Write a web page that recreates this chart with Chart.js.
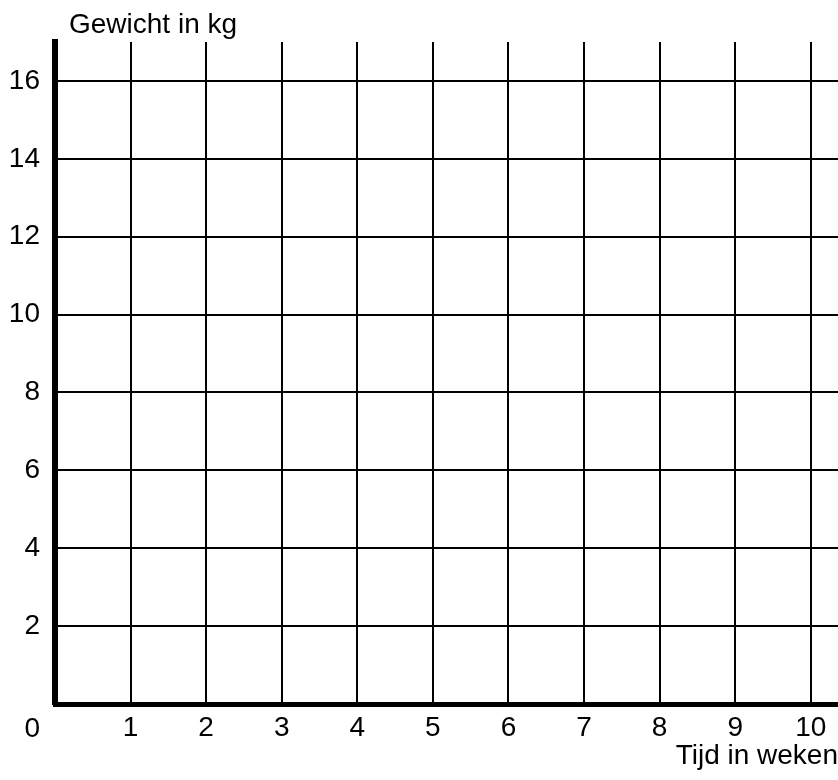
<!DOCTYPE html>
<html>
<head>
<meta charset="utf-8">
<script src="https://cdn.jsdelivr.net/npm/chart.js@4/dist/chart.umd.min.js"></script>
<style>
  html, body { margin: 0; padding: 0; background: #fff; }
  #wrap { width: 838px; height: 780px; }
</style>
</head>
<body>
<div id="wrap"><canvas id="grafiek"></canvas></div>
<script>
// as en tick waarden
const xTicks = [1, 2, 3, 4, 5, 6, 7, 8, 9, 10];
const yTicks = [2, 4, 6, 8, 10, 12, 14, 16];
const xRange = [0, 10.36];
const yRange = [0, 17];
const xTitle = 'Tijd in weken';
const yTitle = 'Gewicht in kg';
const originLabel = '0';
const punten = []; // leeg rooster, nog geen metingen

const fontFamily = "'Liberation Sans', Arial, sans-serif";
const fontSize = 28;

// y-titel staat horizontaal boven de as, "0" staat in de hoek
const hoekTeksten = {
    id: 'hoekTeksten',
    afterDraw(chart) {
        const ctx = chart.ctx;
        const area = chart.chartArea;
        ctx.save();
        ctx.font = fontSize + 'px ' + fontFamily;
        ctx.fillStyle = '#000';
        ctx.textBaseline = 'alphabetic';
        ctx.textAlign = 'left';
        ctx.fillText(yTitle, area.left + 14, area.top - 9);
        ctx.textAlign = 'right';
        ctx.fillText(originLabel, area.left - 15, area.bottom + 33);
        ctx.restore();
    }
};

let grafiek = new Chart(document.getElementById('grafiek'), {
    type: 'scatter',
    data: {
        datasets: [{ data: punten, pointRadius: 0 }]
    },
    options: {
        responsive: true,
        maintainAspectRatio: false,
        animation: false,
        layout: { padding: { top: 42, right: 0, bottom: 0, left: 0 } },
        plugins: {
            legend: { display: false },
            tooltip: { enabled: false }
        },
        scales: {
            x: {
                type: 'linear',
                min: xRange[0],
                max: xRange[1],
                afterBuildTicks: function (scale) {
                    scale.ticks = xTicks.map(v => ({ value: v }));
                },
                afterFit: function (scale) { scale.height = 76; },
                grid: { color: '#000', lineWidth: 2, drawTicks: false },
                border: { color: '#000', width: 5 },
                ticks: {
                    color: '#000',
                    padding: 7,
                    maxRotation: 0,
                    font: { family: fontFamily, size: fontSize }
                },
                title: {
                    display: true,
                    text: xTitle,
                    align: 'end',
                    color: '#000',
                    padding: { top: 0, bottom: 7 },
                    font: { family: fontFamily, size: fontSize }
                }
            },
            y: {
                type: 'linear',
                min: yRange[0],
                max: yRange[1],
                afterBuildTicks: function (scale) {
                    scale.ticks = yTicks.map(v => ({ value: v }));
                },
                afterFit: function (scale) { scale.width = 55; },
                grid: { color: '#000', lineWidth: 2, drawTicks: false },
                border: { color: '#000', width: 6 },
                ticks: {
                    color: '#000',
                    padding: 15,
                    font: { family: fontFamily, size: fontSize }
                }
            }
        }
    },
    plugins: [hoekTeksten]
});
</script>
</body>
</html>
